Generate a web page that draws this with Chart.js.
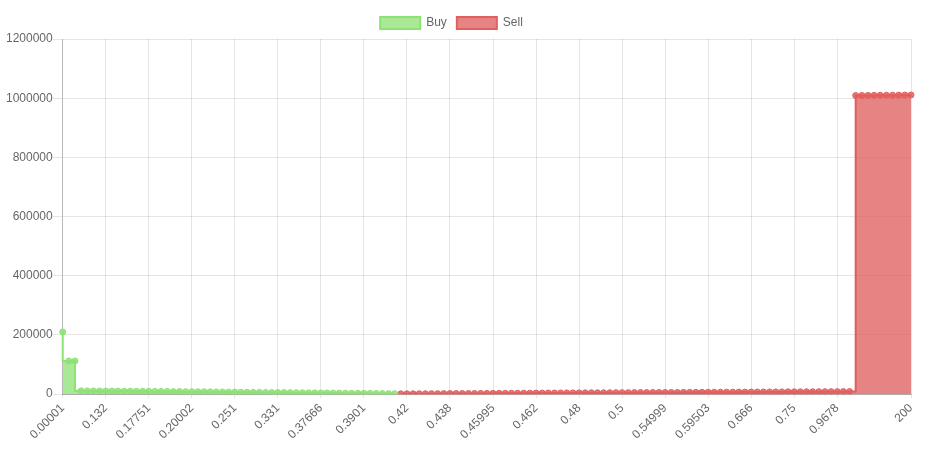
<!DOCTYPE html>
<html>
<head>
<meta charset="utf-8">
<script src="https://cdn.jsdelivr.net/npm/chart.js@4/dist/chart.umd.min.js"></script>
<style>
  html, body { margin: 0; padding: 0; background: #fff; }
  #wrap { width: 930px; height: 451px; }
</style>
</head>
<body>
<div id="wrap"><canvas id="depth-chart"></canvas></div>
<script>
// price levels (x categories)
const prices = [
  0.00001, 0.01, 0.05, 0.1, 0.11, 0.12, 0.13, 0.132, 0.14, 0.15,
  0.155, 0.16, 0.165, 0.17, 0.17751, 0.18, 0.185, 0.19, 0.195, 0.198,
  0.2, 0.20002, 0.21, 0.22, 0.225, 0.23, 0.24, 0.25, 0.251, 0.26,
  0.27, 0.28, 0.3, 0.31, 0.32, 0.331, 0.34, 0.35, 0.355, 0.36,
  0.365, 0.37, 0.37666, 0.378, 0.38, 0.382, 0.385, 0.387, 0.389, 0.3901,
  0.395, 0.4, 0.405, 0.41, 0.415, 0.419, 0.42, 0.421, 0.425, 0.428,
  0.43, 0.433, 0.435, 0.438, 0.44, 0.444, 0.448, 0.45, 0.455, 0.458,
  0.45995, 0.46, 0.4601, 0.4605, 0.461, 0.4615, 0.4618, 0.462, 0.465, 0.468,
  0.47, 0.472, 0.475, 0.478, 0.48, 0.485, 0.488, 0.49, 0.492, 0.495,
  0.499, 0.5, 0.505, 0.51, 0.515, 0.52, 0.53, 0.54, 0.54999, 0.55,
  0.56, 0.565, 0.57, 0.58, 0.59, 0.59503, 0.6, 0.61, 0.62, 0.63,
  0.645, 0.65, 0.666, 0.68, 0.69, 0.7, 0.71, 0.72, 0.74, 0.75,
  0.78, 0.8, 0.85, 0.88, 0.9, 0.95, 0.9678, 0.99, 1, 1.5,
  2, 5, 10, 20, 50, 80, 100, 150, 200
];

// cumulative buy depth (lowest price first)
const buyDepth = [
  210000, 112000, 112000, 11200, 11000, 10900, 10700, 10600, 10400, 10300,
  10100, 10000, 9800, 9700, 9500, 9300, 9200, 9000, 8800, 8700,
  8500, 8300, 8100, 7900, 7700, 7500, 7300, 7100, 6900, 6700,
  6500, 6300, 6100, 5900, 5700, 5500, 5300, 5100, 4900, 4700,
  4500, 4300, 4100, 3900, 3700, 3500, 3300, 3100, 2900, 2700,
  2500, 2300, 2100, 1900, 1700
];

// cumulative sell depth
const sellDepth = [
  1000, 1100, 1200, 1300, 1400, 1500, 1700, 1800, 1900, 2000,
  2100, 2300, 2400, 2500, 2600, 2700, 2800, 3000, 3100, 3200,
  3300, 3400, 3500, 3600, 3800, 3900, 4000, 4100, 4200, 4300,
  4400, 4500, 4600, 4700, 4800, 4900, 5000, 5100, 5200, 5300,
  5400, 5500, 5600, 5700, 5800, 5900, 6000, 6100, 6200, 6300,
  6400, 6500, 6600, 6700, 6800, 6900, 7000, 7100, 7200, 7300,
  7400, 7500, 7600, 7700, 7800, 7900, 8000, 8100, 8200, 8300,
  8400, 8500, 8600, 8800,
  1009000, 1009200, 1009400, 1009600, 1009800, 1010000, 1010200, 1010400, 1010600, 1010800
];

const yTicks = [0, 200000, 400000, 600000, 800000, 1000000, 1200000];

// old-style skipping: every 7th label, last one always shown
const SKIP = 7;
function showTick(i) {
  const n = prices.length;
  if (i === n - 1) return true;
  return i % SKIP === 0 && i + SKIP < n;
}

const buyData = buyDepth.concat(new Array(prices.length - buyDepth.length).fill(null));
const sellData = new Array(prices.length - sellDepth.length).fill(null).concat(sellDepth);

Chart.defaults.font.family = 'Arial, "Liberation Sans", sans-serif';
Chart.defaults.font.size = 12;
Chart.defaults.color = '#666';

// nudge the legend a little to the left, like the old layout
const legendShift = {
  id: 'legendShift',
  afterLayout(chart) {
    if (chart.legend) {
      chart.legend.left -= 7;
      chart.legend.right -= 7;
    }
  }
};

const ctx = document.getElementById('depth-chart').getContext('2d');
const chart = new Chart(ctx, {
  type: 'line',
  data: {
    labels: prices.map(String),
    datasets: [{
      label: 'Buy',
      data: buyData,
      stepped: 'after',
      fill: 'origin',
      backgroundColor: 'rgba(140, 226, 115, 0.75)',
      borderColor: 'rgb(140, 226, 115)',
      borderWidth: 2,
      pointRadius: 3,
      pointBorderWidth: 1,
      pointBackgroundColor: 'rgba(140, 226, 115, 0.85)',
      pointBorderColor: 'rgb(140, 226, 115)'
    }, {
      label: 'Sell',
      data: sellData,
      stepped: 'before',
      fill: 'origin',
      backgroundColor: 'rgba(222, 90, 90, 0.75)',
      borderColor: 'rgb(226, 95, 95)',
      borderWidth: 2,
      pointRadius: 3,
      pointBorderWidth: 1,
      pointBackgroundColor: 'rgba(226, 95, 95, 0.85)',
      pointBorderColor: 'rgb(226, 95, 95)'
    }]
  },
  plugins: [legendShift],
  options: {
    responsive: true,
    maintainAspectRatio: false,
    animation: false,
    layout: { padding: { left: 6, right: 19, top: 7, bottom: 6 } },
    plugins: {
      legend: {
        labels: { boxWidth: 40, boxHeight: 12, padding: 10 }
      },
      tooltip: { enabled: false }
    },
    scales: {
      x: {
        grid: { color: 'rgba(0,0,0,0.1)', tickLength: 4 },
        border: { color: 'rgba(0,0,0,0.25)' },
        ticks: {
          autoSkip: false,
          minRotation: 45,
          maxRotation: 45,
          callback: (v, i) => (showTick(i) ? prices[i] : null)
        }
      },
      y: {
        min: yTicks[0],
        max: yTicks[yTicks.length - 1],
        grid: { color: 'rgba(0,0,0,0.1)', tickLength: 10 },
        border: { color: 'rgba(0,0,0,0.2)' },
        afterBuildTicks: axis => { axis.ticks = yTicks.map(v => ({ value: v })); },
        ticks: { callback: v => String(v), padding: 0 }
      }
    }
  }
});
</script>
</body>
</html>
